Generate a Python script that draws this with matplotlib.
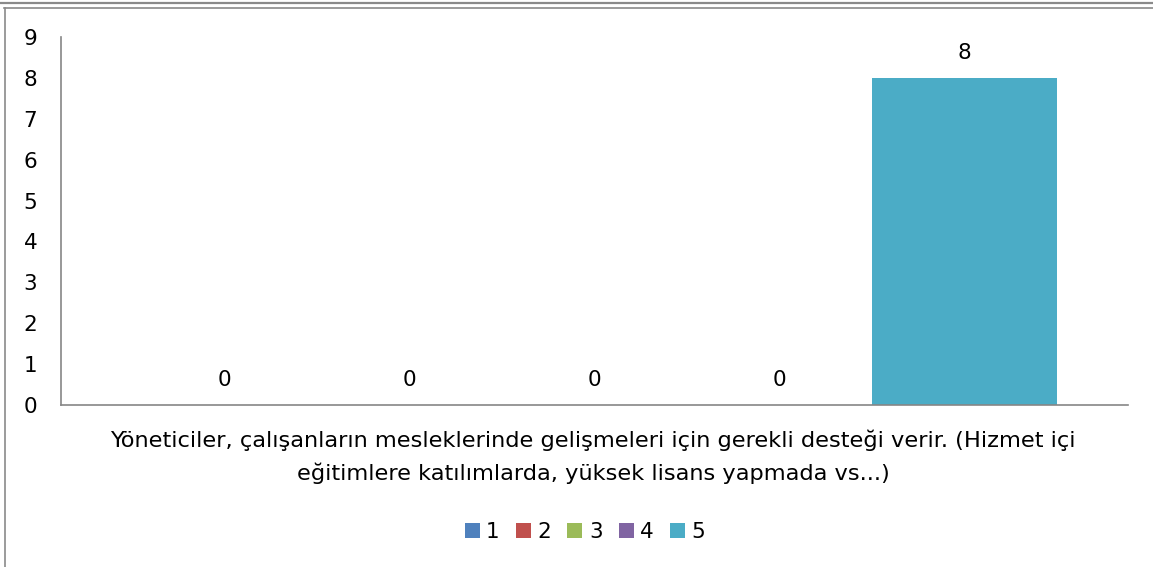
import matplotlib.pyplot as plt
from matplotlib.lines import Line2D
from matplotlib.patches import Patch

# one category, five answer levels (Likert 1..5)
series = ['1', '2', '3', '4', '5']
values = [0, 0, 0, 0, 8]
colors = ['#4F81BD', '#C0504D', '#9BBB59', '#8064A2', '#4BACC6']
category = ("Yöneticiler, çalışanların mesleklerinde gelişmeleri için gerekli desteği verir. (Hizmet içi\n"
            "eğitimlere katılımlarda, yüksek lisans yapmada vs...)")

plt.rcParams['font.family'] = ['DejaVu Sans']
fs = 15.5

fig = plt.figure(figsize=(11.53, 5.67), dpi=100)
ax = fig.add_axes([61/1153, 1 - 405/567, 1067/1153, 368/567])

x = list(range(len(series)))
bars = ax.bar(x, values, width=1.0, color=colors)
for xi, v in zip(x, values):
    ax.annotate(str(v), (xi, v), xytext=(0, 18), textcoords='offset points',
                ha='center', va='center', fontsize=fs)

ax.set_xlim(-0.885, 4.885)
ax.set_ylim(0, 9)
ax.set_yticks(range(10))
ax.tick_params(axis='y', length=0, pad=22, labelsize=fs)
ax.tick_params(axis='x', length=0)
ax.set_xticks([])
for s in ['top', 'right']:
    ax.spines[s].set_visible(False)
for s in ['left', 'bottom']:
    ax.spines[s].set_color('#868686')
    ax.spines[s].set_linewidth(1.2)
for lbl in ax.get_yticklabels():
    lbl.set_horizontalalignment('center')

fig.text(593/1153, 1 - 457/567, category, ha='center', va='center',
         fontsize=16.2, linespacing=1.68)

handles = [Patch(facecolor=c, edgecolor='none') for c in colors]
fig.legend(handles, series, loc='center', bbox_to_anchor=(585/1153, 1 - 532/567),
           ncol=5, frameon=False, fontsize=fs, handlelength=0.7, handleheight=0.7,
           handletextpad=0.3, columnspacing=0.75)

# frame lines from the surrounding sheet
fig.add_artist(Line2D([0, 1], [1 - 3/567, 1 - 3/567], color='#8a8a8a', lw=1.6))
fig.add_artist(Line2D([4/1153, 1], [1 - 7.5/567, 1 - 7.5/567], color='#8a8a8a', lw=1.2))
fig.add_artist(Line2D([4.5/1153, 4.5/1153], [0, 1 - 7.5/567], color='#8a8a8a', lw=1.2))

fig.savefig('out.png', dpi=100)
